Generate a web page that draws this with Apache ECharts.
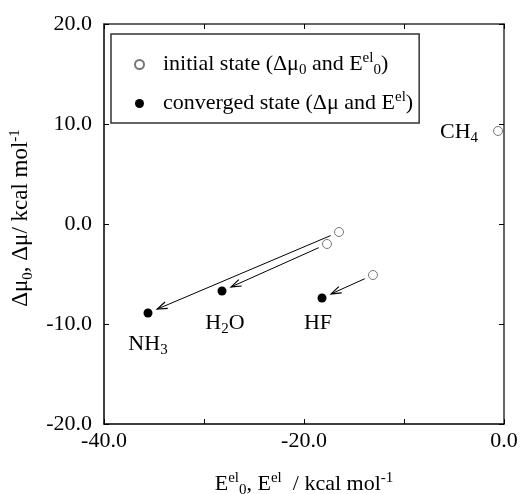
<!DOCTYPE html>
<html><head><meta charset="utf-8">
<script src="https://cdn.jsdelivr.net/npm/echarts@6/dist/echarts.min.js"></script>
<style>html,body{margin:0;padding:0;background:#fff}#c{width:520px;height:494px}</style>
</head><body><div id="c"></div>
<script>
// ---- data ----
const species = ['NH3', 'H2O', 'HF', 'CH4'];
const initialE = [-16.5, -17.7, -13.1, -0.6];
const initialMu = [-0.8, -2.0, -5.1, 9.3];
const convergedSpecies = ['NH3', 'H2O', 'HF'];
const convergedE = [-35.6, -28.2, -18.2];
const convergedMu = [-8.9, -6.7, -7.4];
const xRange = [-40, 0];
const yRange = [-20, 20];
const tickStep = 10;

// ---- presentation ----
const FONT = '"Liberation Serif", "Times New Roman", serif';
const labelText = { NH3: 'NH{sub|3}', H2O: 'H{sub|2}O', HF: 'HF', CH4: 'CH{sub|4}' };
const labelOffset = { NH3: [0, 31], H2O: [3, 32], HF: [-4, 25], CH4: [-39, 1] };
const richSS = {
  sub: { fontFamily: FONT, fontSize: 15, verticalAlign: 'bottom', lineHeight: 15, color: '#000' },
  sup: { fontFamily: FONT, fontSize: 15, verticalAlign: 'top', lineHeight: 15, color: '#000' },
  g: { fontFamily: FONT, fontSize: 14, width: 14 }
};
const legendText = {
  initial: '{g| }initial state (Δμ{sub|0} and E{sup|el}{sub|0})',
  converged: '{g| }converged state (Δμ and E{sup|el})'
};

function mkLabel(name) {
  return {
    show: true, position: 'inside', align: 'center', verticalAlign: 'middle',
    offset: labelOffset[name], formatter: labelText[name],
    fontFamily: FONT, fontSize: 22, lineHeight: 28, color: '#000', rich: richSS
  };
}

const initialData = species.map((s, i) => ({
  name: s, value: [initialE[i], initialMu[i]],
  label: convergedSpecies.includes(s) ? { show: false } : mkLabel(s)
}));
const convergedData = convergedSpecies.map((s, i) => ({
  name: s, value: [convergedE[i], convergedMu[i]], label: mkLabel(s)
}));
const arrowData = convergedSpecies.map((s, i) => {
  const j = species.indexOf(s);
  return [initialE[j], initialMu[j], convergedE[i], convergedMu[i]];
});

const chart = echarts.init(document.getElementById('c'), null, { renderer: 'canvas' });

const axisCommon = {
  type: 'value', interval: tickStep, splitLine: { show: false },
  axisTick: { show: true, inside: true, length: 5, lineStyle: { color: '#000', width: 1 } }
};

chart.setOption({
  animation: false,
  backgroundColor: '#fff',
  textStyle: { fontFamily: FONT, color: '#000' },
  grid: { left: 104, right: 16, top: 24, bottom: 70, containLabel: false, outerBoundsMode: 'none' },
  legend: {
    orient: 'vertical', left: 111, top: 34,
    padding: [17, 6, 6, 23],
    itemGap: 12, itemWidth: 9, itemHeight: 9,
    borderColor: '#333', borderWidth: 1.5,
    data: [{ name: 'initial', icon: 'circle' }, { name: 'converged', icon: 'circle' }],
    formatter: n => legendText[n],
    textStyle: { fontFamily: FONT, fontSize: 22, lineHeight: 27, color: '#000', rich: richSS },
    selectedMode: false
  },
  xAxis: [
    Object.assign({}, axisCommon, {
      min: xRange[0], max: xRange[1], position: 'bottom',
      axisLine: { onZero: false, lineStyle: { color: '#000', width: 1.5 } },
      axisLabel: {
        showMinLabel: true, showMaxLabel: true,
        formatter: v => (v % 20 === 0 ? v.toFixed(1) : ''),
        fontFamily: FONT, fontSize: 22, color: '#000', margin: 6
      },
      name: 'E{sup|el}{sub|0}, E{sup|el}  / kcal mol{sup|-1}',
      nameLocation: 'middle', nameGap: 47,
      nameTextStyle: { fontFamily: FONT, fontSize: 22, lineHeight: 27, color: '#000', rich: richSS }
    }),
    Object.assign({}, axisCommon, {
      min: xRange[0], max: xRange[1], position: 'top',
      axisLine: { onZero: false, lineStyle: { color: '#333', width: 1.5 } },
      axisLabel: { show: false }
    })
  ],
  yAxis: [
    Object.assign({}, axisCommon, {
      min: yRange[0], max: yRange[1], position: 'left',
      axisLine: { onZero: false, lineStyle: { color: '#000', width: 1.5 } },
      axisLabel: {
        showMinLabel: true, showMaxLabel: true,
        formatter: v => v.toFixed(1),
        fontFamily: FONT, fontSize: 22, color: '#000', margin: 12
      },
      name: 'Δμ{sub|0}, Δμ/ kcal mol{sup|-1}',
      nameLocation: 'middle', nameGap: 52,
      nameTextStyle: { fontFamily: FONT, fontSize: 23, lineHeight: 28, color: '#000', rich: richSS, padding: [0, 0, 0, 12] }
    }),
    Object.assign({}, axisCommon, {
      min: yRange[0], max: yRange[1], position: 'right',
      axisLine: { onZero: false, lineStyle: { color: '#333', width: 1.5 } },
      axisLabel: { show: false }
    })
  ],
  series: [
    {
      type: 'custom', name: 'arrows', coordinateSystem: 'cartesian2d',
      xAxisIndex: 0, yAxisIndex: 0, silent: true, z: 1,
      encode: { x: [0, 2], y: [1, 3] },
      data: arrowData,
      renderItem: function (params, api) {
        const p0 = api.coord([api.value(0), api.value(1)]);
        const p1 = api.coord([api.value(2), api.value(3)]);
        const dx = p1[0] - p0[0], dy = p1[1] - p0[1];
        const L = Math.hypot(dx, dy), ux = dx / L, uy = dy / L;
        const s = [p0[0] + ux * 9, p0[1] + uy * 9];
        const e = [p1[0] - ux * 10, p1[1] - uy * 10];
        const nx = -uy, ny = ux, hl = 10, hw = 3.5;
        const b = [e[0] - ux * hl, e[1] - uy * hl];
        return {
          type: 'group', children: [
            { type: 'line', shape: { x1: s[0], y1: s[1], x2: e[0], y2: e[1] }, style: { stroke: '#000', lineWidth: 1 } },
            { type: 'polyline', shape: { points: [[b[0] + nx * hw, b[1] + ny * hw], e, [b[0] - nx * hw, b[1] - ny * hw]] },
              style: { stroke: '#000', lineWidth: 1.2, fill: null } }
          ]
        };
      }
    },
    {
      type: 'scatter', name: 'initial', symbol: 'circle', symbolSize: 9, z: 3,
      itemStyle: { color: '#fff', borderColor: '#777', borderWidth: 1, opacity: 1 },
      data: initialData
    },
    {
      type: 'scatter', name: 'converged', symbol: 'circle', symbolSize: 9, z: 3,
      itemStyle: { color: '#000', opacity: 1 },
      data: convergedData
    }
  ]
});
</script>
</body></html>
